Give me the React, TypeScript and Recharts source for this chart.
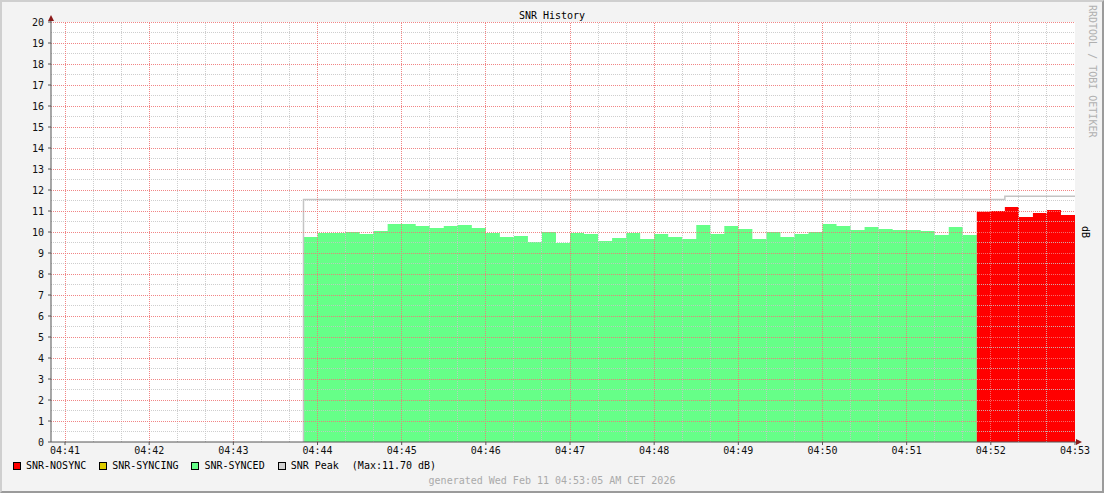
import {
  ComposedChart,
  Area,
  Line,
  XAxis,
  YAxis,
  CartesianGrid,
  ReferenceLine,
  ReferenceDot,
} from "recharts";

const FONT = '"DejaVu Sans Mono", monospace';

// x is seconds after 04:41:00
const xTickLabels = ["04:41", "04:42", "04:43", "04:44", "04:45", "04:46", "04:47", "04:48", "04:49", "04:50", "04:51", "04:52", "04:53"];
const xTicks = xTickLabels.map((_, i) => i * 60);
const yTicks = [0, 1, 2, 3, 4, 5, 6, 7, 8, 9, 10, 11, 12, 13, 14, 15, 16, 17, 18, 19, 20];

const stepSec = 10;

// SNR-SYNCED, 10s steps from 04:43:50
const syncedStart = 170;
const synced = [
  9.76, 9.95, 9.95, 10.0, 9.9, 10.05, 10.38, 10.38, 10.29, 10.19, 10.29, 10.33,
  10.19, 9.95, 9.76, 9.81, 9.52, 10.0, 9.48, 9.95, 9.9, 9.57, 9.71, 9.95,
  9.67, 9.9, 9.76, 9.67, 10.33, 9.9, 10.29, 10.14, 9.67, 10.0, 9.76, 9.9,
  10.0, 10.38, 10.29, 10.1, 10.24, 10.14, 10.1, 10.1, 10.05, 9.86, 10.24, 9.86,
];

// SNR-NOSYNC, 10s steps from 04:51:50
const nosyncStart = 650;
const nosync = [10.97, 11.0, 11.19, 10.71, 10.9, 11.05, 10.81];

// SNR Peak
const peakTimes = [170, 170, 670, 670, 720];
const peakValues = [0, 11.55, 11.55, 11.7, 11.7];

const legendItems = [
  { label: "SNR-NOSYNC", color: "#ff0000" },
  { label: "SNR-SYNCING", color: "#ddcc00" },
  { label: "SNR-SYNCED", color: "#66ff88" },
  { label: "SNR Peak", color: "#d0d0d0" },
];

type Row = { t: number; synced?: number; nosync?: number };
const byT = new Map<number, Row>();
function put(t: number, key: "synced" | "nosync", v: number) {
  const r = byT.get(t) ?? { t };
  r[key] = v;
  byT.set(t, r);
}
synced.forEach((v, i) => put(syncedStart + i * stepSec, "synced", v));
put(syncedStart + synced.length * stepSec, "synced", synced[synced.length - 1]);
nosync.forEach((v, i) => put(nosyncStart + i * stepSec, "nosync", v));
put(nosyncStart + nosync.length * stepSec, "nosync", nosync[nosync.length - 1]);
const rows = [...byT.values()].sort((a, b) => a.t - b.t);

const peakData = peakTimes.map((t, i) => ({ t, peak: peakValues[i] }));

const hMinor = yTicks.slice(0, -1).map((v) => v + 0.5);
const hMajor = yTicks.slice(1);
const vMajor = xTicks.slice(0, -1);
const vMinor: number[] = [];
for (let t = 20; t < 720; t += 20) if (t % 60 !== 0) vMinor.push(t);

// major grid drawn as two-point segments through the chart scales
const majorSegments = [
  ...hMajor.map((v) => ({ id: `h${v}`, pts: [{ t: -10, g: v }, { t: 720, g: v }] })),
  ...vMajor.map((v) => ({ id: `v${v}`, pts: [{ t: v, g: 0 }, { t: v, g: 20 }] })),
];

const ARROW = "#8b1a1a";
const AXIS = "#555";
const MINOR = "#c6c6c6";
const MAJOR = "#f07878";

// snap grid lines onto whole pixels so the 1px dots stay crisp
const snap = (v: number) => Math.floor(v) + 0.5;
const minorShape = (p: any) => {
  const vertical = Math.abs(p.x1 - p.x2) < 0.01;
  const x1 = vertical ? snap(p.x1) : p.x1;
  const x2 = vertical ? snap(p.x2) : p.x2;
  const y1 = vertical ? p.y1 : snap(p.y1 - 0.01);
  const y2 = vertical ? p.y2 : snap(p.y2 - 0.01);
  return (
    <line x1={x1} y1={y1} x2={x2} y2={y2} stroke={MINOR} strokeOpacity={0.85} strokeWidth={1} strokeDasharray="1 1" />
  );
};

const ArrowRight = (p: any) => (
  <g>
    <line x1={p.cx} y1={p.cy} x2={p.cx + 3} y2={p.cy} stroke={AXIS} />
    <path d={`M${p.cx + 1},${p.cy - 3} L${p.cx + 7},${p.cy} L${p.cx + 1},${p.cy + 3} Z`} fill={ARROW} />
  </g>
);
const ArrowUp = (p: any) => (
  <g>
    <line x1={p.cx} y1={p.cy} x2={p.cx} y2={p.cy - 3} stroke={AXIS} />
    <path d={`M${p.cx - 3},${p.cy - 1} L${p.cx},${p.cy - 7} L${p.cx + 3},${p.cy - 1} Z`} fill={ARROW} />
  </g>
);

const tickStyle = { fill: "#111", fontSize: 10, fontFamily: FONT };

export default function App() {
  return (
    <div
      style={{
        position: "absolute",
        left: 0,
        top: 0,
        width: 1104,
        height: 493,
        background: "#f3f3f3",
        fontFamily: FONT,
        overflow: "hidden",
      }}
    >
      <ComposedChart
        width={1104}
        height={493}
        data={rows}
        margin={{ top: 22, right: 29, bottom: 31, left: 0 }}
      >
        <CartesianGrid fill="#ffffff" horizontal={false} vertical={false} />
        <XAxis
          dataKey="t"
          type="number"
          domain={[-10, 720]}
          allowDataOverflow
          ticks={xTicks}
          interval={0}
          tickFormatter={(v: number) => xTickLabels[Math.round(v / 60)]}
          height={20}
          tickSize={3}
          tickMargin={2}
          stroke={AXIS}
          tick={tickStyle}
        />
        <YAxis
          type="number"
          domain={[0, 20]}
          allowDataOverflow
          ticks={yTicks}
          interval={0}
          width={51}
          tickSize={3}
          tickMargin={4}
          stroke={AXIS}
          tick={tickStyle}
        />
        <Area
          type="stepAfter"
          dataKey="synced"
          fill="#66ff88"
          fillOpacity={1}
          stroke="none"
          isAnimationActive={false}
        />
        <Area
          type="stepAfter"
          dataKey="nosync"
          fill="#ff0000"
          fillOpacity={1}
          stroke="none"
          isAnimationActive={false}
        />
        <Line
          data={peakData}
          dataKey="peak"
          type="linear"
          stroke="#c4c4c4"
          strokeWidth={1.5}
          dot={false}
          activeDot={false}
          isAnimationActive={false}
        />
        {hMinor.map((v) => (
          <ReferenceLine key={`hm${v}`} y={v} shape={minorShape} />
        ))}
        {vMinor.map((v) => (
          <ReferenceLine key={`vm${v}`} x={v} shape={minorShape} />
        ))}
        {majorSegments.map((s) => (
          <Line
            key={s.id}
            data={s.pts}
            dataKey="g"
            type="linear"
            stroke={MAJOR}
            strokeOpacity={0.9}
            strokeWidth={1}
            strokeDasharray="1 1"
            shapeRendering="crispEdges"
            dot={false}
            activeDot={false}
            legendType="none"
            isAnimationActive={false}
          />
        ))}
        <ReferenceDot x={720} y={0} r={0} ifOverflow="visible" shape={ArrowRight} />
        <ReferenceDot x={-10} y={20} r={0} ifOverflow="visible" shape={ArrowUp} />
      </ComposedChart>

      <div
        style={{
          position: "absolute",
          left: 0,
          width: 1104,
          top: 10,
          textAlign: "center",
          fontSize: 10,
          lineHeight: "12px",
          color: "#000",
        }}
      >
        SNR History
      </div>

      <div
        style={{
          position: "absolute",
          left: 1086,
          top: 5,
          writingMode: "vertical-rl",
          fontSize: 10,
          lineHeight: "12px",
          color: "#b0b0b0",
          whiteSpace: "pre",
        }}
      >
        RRDTOOL / TOBI OETIKER
      </div>

      <div
        style={{
          position: "absolute",
          left: 1079,
          top: 226,
          writingMode: "vertical-rl",
          fontSize: 10,
          lineHeight: "12px",
          color: "#000",
        }}
      >
        dB
      </div>

      <div
        style={{
          position: "absolute",
          left: 13,
          top: 460,
          display: "flex",
          alignItems: "center",
          fontSize: 10,
          lineHeight: "12px",
          color: "#000",
          whiteSpace: "pre",
        }}
      >
        {legendItems.map((it) => (
          <div key={it.label} style={{ display: "flex", alignItems: "center", marginRight: 13 }}>
            <span
              style={{
                display: "inline-block",
                width: 8,
                height: 8,
                boxSizing: "border-box",
                border: "1px solid #000",
                background: it.color,
                marginRight: 5,
              }}
            />
            <span>{it.label}</span>
          </div>
        ))}
        <span>(Max:11.70 dB)</span>
      </div>

      <div
        style={{
          position: "absolute",
          left: 0,
          width: 1104,
          top: 475,
          textAlign: "center",
          fontSize: 10,
          lineHeight: "12px",
          color: "#aaaaaa",
        }}
      >
        generated Wed Feb 11 04:53:05 AM CET 2026
      </div>

      <div
        style={{
          position: "absolute",
          inset: 0,
          boxSizing: "border-box",
          borderTop: "2px solid #cfcfcf",
          borderLeft: "2px solid #cfcfcf",
          borderBottom: "2px solid #9b9b9b",
          borderRight: "2px solid #9b9b9b",
          pointerEvents: "none",
        }}
      />
    </div>
  );
}
